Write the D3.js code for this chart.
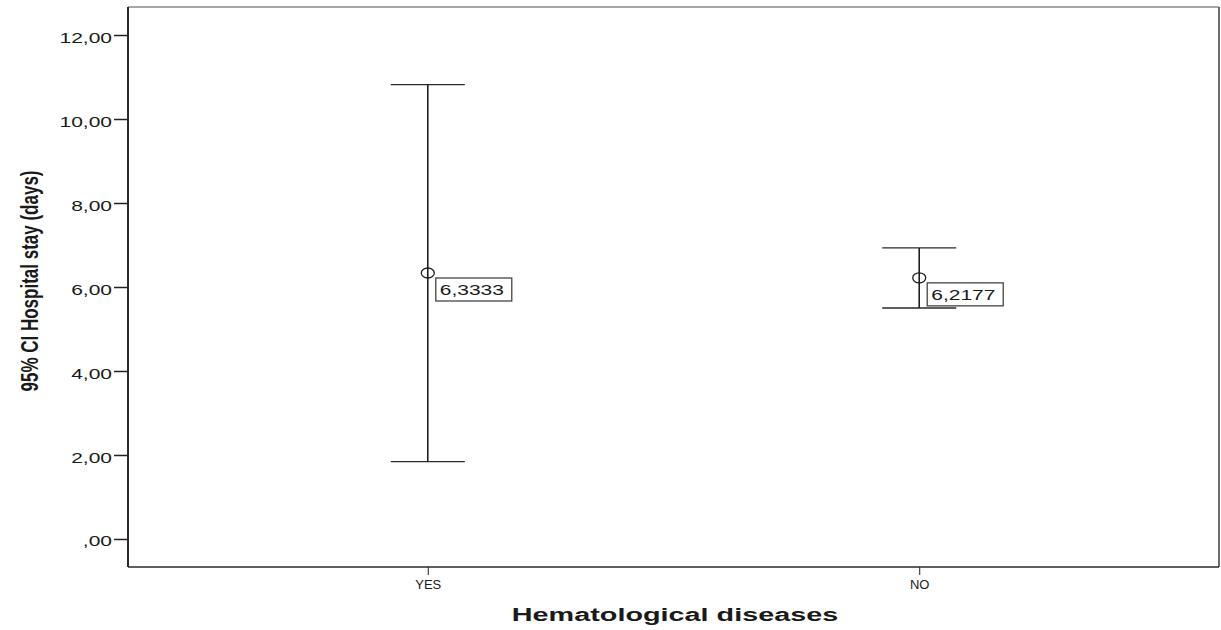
<!DOCTYPE html>
<html>
<head>
<meta charset="utf-8">
<script src="https://cdn.jsdelivr.net/npm/d3@7"></script>
<style>
  body { margin: 0; background: #fff; }
  text { font-family: "Liberation Sans", Arial, sans-serif; fill: #1a1a1a; }
</style>
</head>
<body>
<svg id="chart"></svg>
<script>
// values
var categories = ["YES", "NO"];
var means = [6.3333, 6.2177];
var lower = [1.84, 5.50];
var upper = [10.82, 6.93];
var meanLabels = ["6,3333", "6,2177"];
var yTicks = [0, 2, 4, 6, 8, 10, 12];

(function () {
  var W = 1221, H = 630;
  var pLeft = 128, pRight = 1219, pTop = 7, pBottom = 567;

  var svg = d3.select("#chart").attr("width", W).attr("height", H);

  var x = d3.scalePoint().domain(categories).range([pLeft, pRight]).padding(0.61);
  var y = d3.scaleLinear().domain([-0.667, 12.667]).range([pBottom, pTop]);

  // comma decimals like the original
  function fmt(d) {
    if (d === 0) return ",00";
    return d3.format(".2f")(d).replace(".", ",");
  }

  // frame: top and right in grey
  svg.append("line").attr("x1", pLeft).attr("x2", pRight).attr("y1", pTop).attr("y2", pTop)
    .attr("stroke", "#8a8a8a").attr("stroke-width", 1.5);
  svg.append("line").attr("x1", pRight).attr("x2", pRight).attr("y1", pTop).attr("y2", pBottom)
    .attr("stroke", "#6e6e6e").attr("stroke-width", 2);

  // y axis
  var yAxis = svg.append("g").attr("transform", "translate(" + pLeft + ",0)")
    .call(d3.axisLeft(y).tickValues(yTicks).tickSize(14).tickSizeOuter(0).tickFormat(fmt));
  yAxis.select(".domain").remove();
  yAxis.selectAll(".tick line").attr("stroke", "#222").attr("stroke-width", 1.5);
  yAxis.selectAll(".tick text")
    .attr("x", null).attr("dy", "0.5em")
    .attr("transform", "translate(-16,0) scale(1.5,1)")
    .style("font-size", "14px").attr("fill", "#1a1a1a");

  // x axis
  var xAxis = svg.append("g").attr("transform", "translate(0," + pBottom + ")")
    .call(d3.axisBottom(x).tickSize(8).tickPadding(5).tickSizeOuter(0));
  xAxis.select(".domain").remove();
  xAxis.selectAll(".tick line").attr("stroke", "#222");
  xAxis.selectAll(".tick text").style("font-size", "13px").attr("fill", "#1a1a1a");

  // left and bottom axis lines
  svg.append("line").attr("x1", pLeft).attr("x2", pLeft).attr("y1", pTop).attr("y2", pBottom)
    .attr("stroke", "#2a2a2a").attr("stroke-width", 2);
  svg.append("line").attr("x1", pLeft).attr("x2", pRight).attr("y1", pBottom).attr("y2", pBottom)
    .attr("stroke", "#2a2a2a").attr("stroke-width", 1.5);

  // error bars
  var capHalf = 37;
  var bars = svg.append("g").selectAll("g").data(categories).enter().append("g");

  bars.append("line")
    .attr("x1", function (d) { return x(d); }).attr("x2", function (d) { return x(d); })
    .attr("y1", function (d, i) { return y(upper[i]); })
    .attr("y2", function (d, i) { return y(lower[i]); })
    .attr("stroke", "#1e1e1e").attr("stroke-width", 1.6);

  bars.append("line")
    .attr("x1", function (d) { return x(d) - capHalf; }).attr("x2", function (d) { return x(d) + capHalf; })
    .attr("y1", function (d, i) { return y(upper[i]); })
    .attr("y2", function (d, i) { return y(upper[i]); })
    .attr("stroke", "#2a2a2a").attr("stroke-width", 1.3);

  bars.append("line")
    .attr("x1", function (d) { return x(d) - capHalf; }).attr("x2", function (d) { return x(d) + capHalf; })
    .attr("y1", function (d, i) { return y(lower[i]); })
    .attr("y2", function (d, i) { return y(lower[i]); })
    .attr("stroke", "#2a2a2a").attr("stroke-width", 1.3);

  // mean marker
  bars.append("ellipse")
    .attr("cx", function (d) { return x(d); })
    .attr("cy", function (d, i) { return y(means[i]); })
    .attr("rx", 6.5).attr("ry", 5)
    .attr("fill", "none").attr("stroke", "#1e1e1e").attr("stroke-width", 1.3);

  // value label box
  bars.append("rect")
    .attr("x", function (d) { return x(d) + 8; })
    .attr("y", function (d, i) { return y(means[i]) + 5; })
    .attr("width", 76).attr("height", 23)
    .attr("fill", "#fff").attr("stroke", "#444").attr("stroke-width", 1.3);

  bars.append("text")
    .attr("transform", function (d, i) {
      return "translate(" + (x(d) + 12) + "," + (y(means[i]) + 22) + ") scale(1.5,1)";
    })
    .style("font-size", "14px")
    .text(function (d, i) { return meanLabels[i]; });

  // axis titles
  svg.append("text")
    .attr("transform", "translate(675,621) scale(1.6,1)")
    .attr("text-anchor", "middle")
    .style("font-size", "18px").style("font-weight", "bold")
    .text("Hematological diseases");

  svg.append("text")
    .attr("transform", "translate(30,281) scale(1.4,1) rotate(-90)")
    .attr("text-anchor", "middle").attr("dy", "0.35em")
    .style("font-size", "17px").style("font-weight", "bold")
    .text("95% CI Hospital stay (days)");
})();
</script>
</body>
</html>
